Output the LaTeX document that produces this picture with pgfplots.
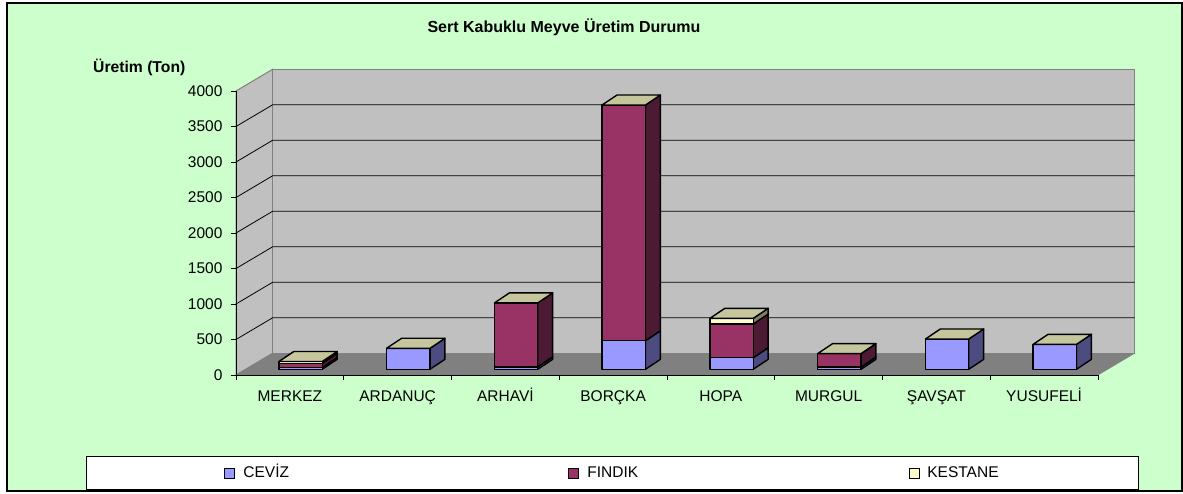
\documentclass[border=0pt]{standalone}
\usepackage{pgfplots}
\pgfplotsset{compat=1.18}
\usepackage{pgfplotstable}
\usepackage{fontspec}
\setmainfont{Liberation Sans}

\definecolor{bgc}{HTML}{CCFFCC}
\definecolor{wallc}{HTML}{C0C0C0}
\definecolor{floorc}{HTML}{808080}
\definecolor{cevizF}{HTML}{9999FF}
\definecolor{cevizS}{HTML}{4C4C80}
\definecolor{findikF}{HTML}{993366}
\definecolor{findikS}{HTML}{4D1A33}
\definecolor{kestaneF}{HTML}{FFFFCC}
\definecolor{kestaneS}{HTML}{808066}
\definecolor{topc}{HTML}{C6C69C}

% production (ton): CEVIZ, FINDIK, KESTANE
\pgfplotstableread{
x ceviz findik kestane
0 25 60 25
1 296 0 0
2 35 900 0
3 403 3320 0
4 163 475 80
5 32 189 0
6 427 0 0
7 352 0 0
}\datatable

\pgfplotsset{barface/.style={draw=black, line width=1.4pt, line join=round, mark=none, forget plot}}

% one stacked segment: x index, bottom, top, front colour, side colour
\newcommand\seg[5]{%
  \pgfmathsetmacro\xa{#1+0.398}%
  \pgfmathsetmacro\xb{#1+0.800}%
  \pgfmathsetmacro\xc{#1+0.939}%
  \pgfmathsetmacro\ya{#2+80}%
  \pgfmathsetmacro\yb{#3+80}%
  \pgfmathsetmacro\yc{#2+221}%
  \pgfmathsetmacro\yd{#3+221}%
  \edef\temp{\noexpand\addplot[barface,fill=#5] coordinates {(\xb,\ya) (\xc,\yc) (\xc,\yd) (\xb,\yb)} -- cycle;
    \noexpand\addplot[barface,fill=#4] coordinates {(\xa,\ya) (\xb,\ya) (\xb,\yb) (\xa,\yb)} -- cycle;}%
  \temp
}
\newcommand\topface[2]{%
  \pgfmathsetmacro\xa{#1+0.398}%
  \pgfmathsetmacro\xb{#1+0.800}%
  \pgfmathsetmacro\xc{#1+0.939}%
  \pgfmathsetmacro\xd{#1+0.537}%
  \pgfmathsetmacro\yb{#2+80}%
  \pgfmathsetmacro\yd{#2+221}%
  \edef\temp{\noexpand\addplot[barface,fill=topc] coordinates {(\xa,\yb) (\xb,\yb) (\xc,\yd) (\xd,\yd)} -- cycle;}%
  \temp
}

\begin{document}
\begin{tikzpicture}[x=1pt,y=1pt]
\useasboundingbox (0,0) rectangle (1183,493);
\fill[white] (0,0) rectangle (1183,493);
\filldraw[fill=bgc, draw=black, line width=1.5pt] (7,2) rectangle (1182,490);

\begin{axis}[
  at={(236pt,118pt)}, anchor=south west,
  scale only axis, width=862pt, height=284pt,
  xmin=0, xmax=8, ymin=0, ymax=4000,
  clip=false, axis on top,
  axis x line*=bottom, axis y line*=left,
  axis line style={line width=1pt, -},
  tick align=outside, major tick length=5pt,
  tick style={black, line width=1pt},
  xtick={0,1,...,8}, xticklabels={},
  extra x ticks={0.5,1.5,...,7.5},
  extra x tick labels={MERKEZ,ARDANUÇ,ARHAVİ,BORÇKA,HOPA,MURGUL,ŞAVŞAT,YUSUFELİ},
  extra x tick style={major tick length=0pt, xticklabel style={text height=12pt, text depth=4pt, yshift=-11pt}},
  ytick={0,500,...,4000},
  yticklabel style={/pgf/number format/1000 sep={}, xshift=-5pt},
  /pgf/number format/assume math mode=true,
  ticklabel style={font=\fontsize{15.5}{18}\selectfont},
  legend columns=3,
  legend style={at={(-0.17401,-0.40493)}, anchor=south west, draw=black, line width=0.8pt, fill=white,
    inner xsep=138pt, inner ysep=9.5pt, column sep=0pt,
    nodes={inner sep=0pt, text height=11pt, text depth=3pt, font=\fontsize{15.5}{18}\selectfont}},
  legend image code/.code={\draw[#1, draw=black, line width=1pt] (0pt,-5pt) rectangle (10pt,5pt);},
]
% walls and floor
\addplot[fill=wallc, draw=floorc, line width=1pt, forget plot] coordinates {(0,0) (0,4000) (0.3397,4305.6) (0.3397,305.6)} -- cycle;
\addplot[fill=wallc, draw=floorc, line width=1pt, forget plot] coordinates {(0.3397,305.6) (8.3397,305.6) (8.3397,4305.6) (0.3397,4305.6)} -- cycle;
\addplot[fill=floorc, draw=floorc, line width=0.5pt, forget plot] coordinates {(0,0) (8,0) (8.3397,305.6) (0.3397,305.6)} -- cycle;
% gridlines
\pgfplotsinvokeforeach{500,1000,...,3500}{
  \addplot[black, line width=0.8pt, forget plot] coordinates {(0,#1) (0.3397,#1+305.6) (8.3397,#1+305.6)};
}
% bars
\pgfplotsforeachungrouped \i in {0,...,7}{%
  \pgfplotstablegetelem{\i}{ceviz}\of\datatable \let\vc\pgfplotsretval
  \pgfplotstablegetelem{\i}{findik}\of\datatable \let\vf\pgfplotsretval
  \pgfplotstablegetelem{\i}{kestane}\of\datatable \let\vk\pgfplotsretval
  \pgfmathsetmacro\sa{\vc}%
  \pgfmathsetmacro\sb{\vc+\vf}%
  \pgfmathsetmacro\sc{\vc+\vf+\vk}%
  \ifdim\vc pt>0pt \seg{\i}{0}{\sa}{cevizF}{cevizS}\fi
  \ifdim\vf pt>0pt \seg{\i}{\sa}{\sb}{findikF}{findikS}\fi
  \ifdim\vk pt>0pt \seg{\i}{\sb}{\sc}{kestaneF}{kestaneS}\fi
  \topface{\i}{\sc}%
}
\addlegendimage{fill=cevizF}
\addlegendentry{\makebox[333pt][l]{\hspace{8pt}CEVİZ}}
\addlegendimage{fill=findikF}
\addlegendentry{\makebox[330pt][l]{\hspace{8pt}FINDIK}}
\addlegendimage{fill=kestaneF}
\addlegendentry{\makebox[80pt][l]{\hspace{7pt}KESTANE}}
\end{axis}

\node[anchor=base, font=\bfseries\fontsize{16}{19}\selectfont] at (564,460.3) {Sert Kabuklu Meyve Üretim Durumu};
\node[anchor=base west, inner sep=0pt, font=\bfseries\fontsize{15.7}{18}\selectfont] at (93,420.5) {Üretim (Ton)};
\end{tikzpicture}
\end{document}
